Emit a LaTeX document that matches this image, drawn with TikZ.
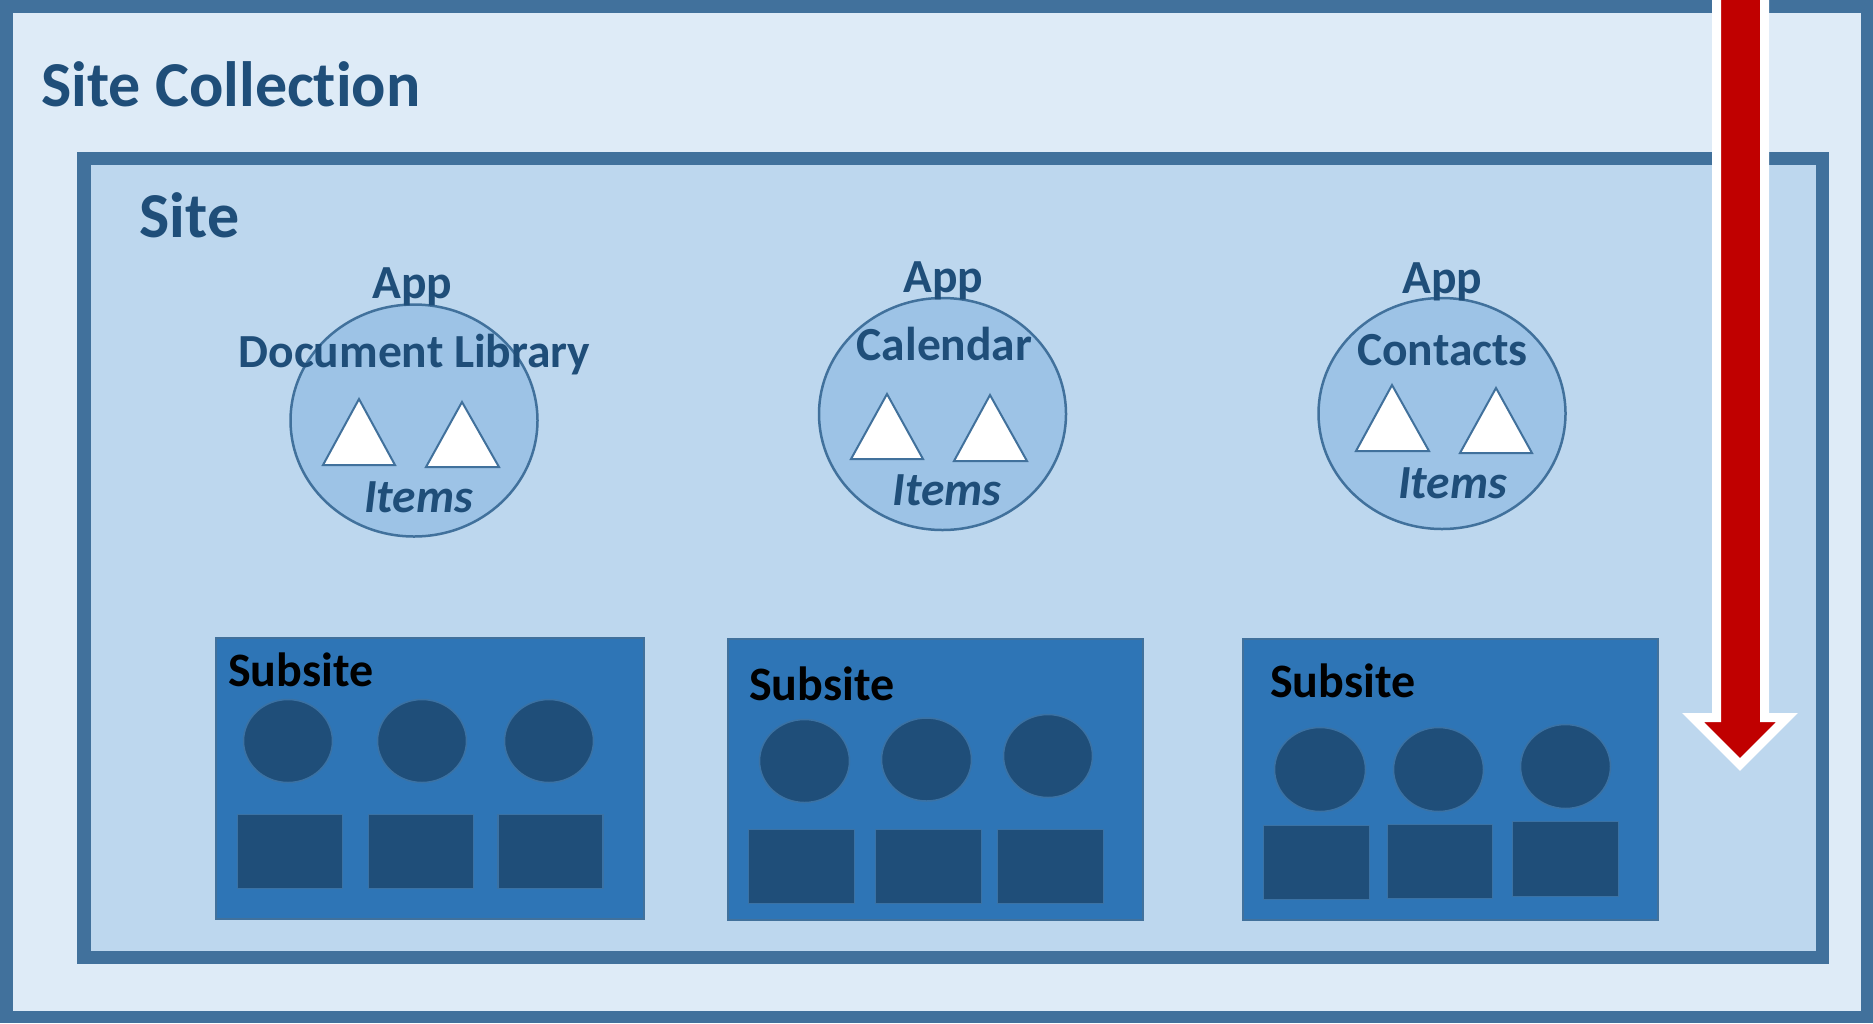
\documentclass[tikz,border=0pt]{standalone}
\usepackage{fontspec}
\setmainfont{Carlito}[Ligatures=NoCommon]
\usepackage{tikz}
\usetikzlibrary{shapes.geometric}
\definecolor{SPLine}{HTML}{41719C}
\definecolor{SPPale}{HTML}{DEEBF7}
\definecolor{SPLight}{HTML}{BDD7EE}
\definecolor{SPMid}{HTML}{9DC3E6}
\definecolor{SPBlue}{HTML}{2E75B6}
\definecolor{SPDark}{HTML}{1F4E79}
\definecolor{SPRed}{HTML}{C00000}
\tikzstyle{boxline} = [draw=SPLine,line join=miter]
\tikzstyle{app} = [ellipse,draw=SPLine,fill=SPMid,line width=2.5pt,inner sep=0pt]
\tikzstyle{item} = [draw=SPLine,fill=white,line width=2pt,line join=miter]
\tikzstyle{subsite} = [rectangle,draw=SPLine,fill=SPBlue,line width=1.5pt,inner sep=0pt]
\tikzstyle{member} = [draw=SPLine!70!SPBlue,fill=SPDark,line width=1.5pt,inner sep=0pt]
\tikzstyle{heading} = [text=SPDark,font=\bfseries\fontsize{64}{64}\selectfont,anchor=base west,inner sep=0pt]
\tikzstyle{appname} = [text=SPDark,font=\bfseries\fontsize{47.5}{47.5}\selectfont,anchor=base,inner sep=0pt]
\tikzstyle{subname} = [text=black,font=\bfseries\fontsize{48}{48}\selectfont,anchor=base west,inner sep=0pt]
\tikzstyle{drill} = [draw=white,fill=SPRed,line width=9pt,line join=miter]

\begin{document}
\begin{tikzpicture}[x=1pt,y=-1pt]
			\useasboundingbox (0,0) rectangle (1873,1023);
			
			% collection and site frames
			\draw[boxline,fill=SPPale,line width=12.5pt] (6.5,6.5) rectangle (1867,1017);
			\draw[boxline,fill=SPLight,line width=13.5pt] (84,158.5) rectangle (1822.5,957.5);
			\node[heading] (coll) at (41,106) {Site Collection};
			\node[heading] (site) at (139.5,237) {Site};
			
			% apps
			\node[app,minimum width=247pt,minimum height=232pt] (lib) at (414,420.5) {};
			\node[app,minimum width=247pt,minimum height=232pt] (cal) at (942.5,414) {};
			\node[app,minimum width=247pt,minimum height=231pt] (con) at (1442,413.5) {};
			
			\draw[item] (323,465) -- (359,399) -- (395,465) -- cycle;
			\draw[item] (426,467) -- (462,402) -- (499,467) -- cycle;
			\draw[item] (851,459) -- (887,394) -- (923,459) -- cycle;
			\draw[item] (954,461) -- (990,395) -- (1027,461) -- cycle;
			\draw[item] (1356,451) -- (1392,385) -- (1429,451) -- cycle;
			\draw[item] (1460,453) -- (1496,388) -- (1532,453) -- cycle;
			
			\node[appname] (libapp) at (412.5,298) {App};
			\node[appname] (libname) at (414.5,367) {Document Library};
			\node[appname] (libitems) at (418.5,512) {\itshape Items};
			\node[appname] (calapp) at (943.5,292) {App};
			\node[appname] (calname) at (944.5,360) {Calendar};
			\node[appname] (calitems) at (947,505) {\itshape Items};
			\node[appname] (conapp) at (1442.5,293) {App};
			\node[appname] (conname) at (1442.5,365) {Contacts};
			\node[appname] (conitems) at (1452.5,498) {\itshape Items};
			
			% subsites
			\node[subsite,minimum width=428pt,minimum height=281pt] (sub1) at (430,778.5) {};
			\node[subsite,minimum width=415pt,minimum height=281pt] (sub2) at (935.5,779.5) {};
			\node[subsite,minimum width=415pt,minimum height=281pt] (sub3) at (1450.5,779.5) {};
			\node[subname] (sub1name) at (228,686) {Subsite};
			\node[subname] (sub2name) at (749,700) {Subsite};
			\node[subname] (sub3name) at (1270,697) {Subsite};
			
			\node[member,ellipse,minimum width=89pt,minimum height=83pt] (s1a) at (288,741) {};
			\node[member,ellipse,minimum width=89pt,minimum height=83pt] (s1b) at (422,741) {};
			\node[member,ellipse,minimum width=89pt,minimum height=83pt] (s1c) at (549,741) {};
			\node[member,minimum width=105pt,minimum height=74pt] (s1d) at (290,851.5) {};
			\node[member,minimum width=105pt,minimum height=74pt] (s1e) at (421,851.5) {};
			\node[member,minimum width=105pt,minimum height=74pt] (s1f) at (550.5,851.5) {};
			
			\node[member,ellipse,minimum width=90pt,minimum height=83pt] (s2a) at (804.5,761) {};
			\node[member,ellipse,minimum width=90pt,minimum height=83pt] (s2b) at (926.5,759.5) {};
			\node[member,ellipse,minimum width=89pt,minimum height=83pt] (s2c) at (1048,756) {};
			\node[member,minimum width=106pt,minimum height=74pt] (s2d) at (801.5,866.5) {};
			\node[member,minimum width=106pt,minimum height=74pt] (s2e) at (928.5,866.5) {};
			\node[member,minimum width=106pt,minimum height=74pt] (s2f) at (1050.5,866.5) {};
			
			\node[member,ellipse,minimum width=91pt,minimum height=84pt] (s3a) at (1320,769.5) {};
			\node[member,ellipse,minimum width=90pt,minimum height=84pt] (s3b) at (1438.5,769.5) {};
			\node[member,ellipse,minimum width=90pt,minimum height=84pt] (s3c) at (1565.5,766.5) {};
			\node[member,minimum width=106pt,minimum height=74pt] (s3d) at (1316.5,862.5) {};
			\node[member,minimum width=105pt,minimum height=74pt] (s3e) at (1440,861.5) {};
			\node[member,minimum width=106pt,minimum height=75pt] (s3f) at (1565.5,859) {};
			
			% drill-down arrow
			\draw[drill] (1716.5,-20) -- (1716.5,717.5) -- (1693,717.5) -- (1740,764.5)
				-- (1787,717.5) -- (1764.5,717.5) -- (1764.5,-20) -- cycle;
\end{tikzpicture}
\end{document}
